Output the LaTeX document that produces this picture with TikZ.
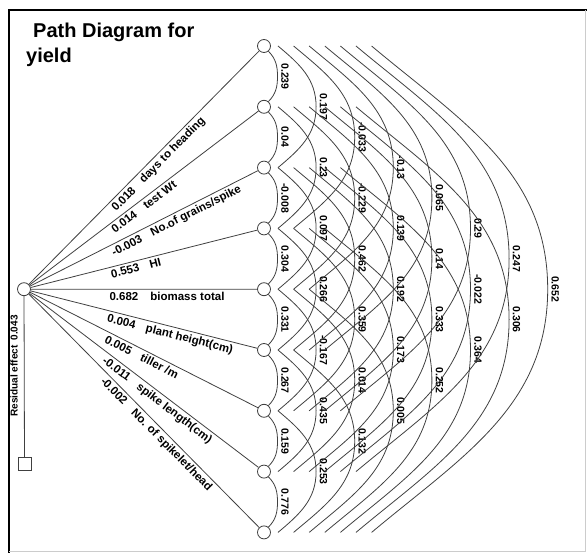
\documentclass[tikz,border=0pt]{standalone}
\usepackage{fontspec}
\setmainfont{Liberation Sans}
\begin{document}
\begin{tikzpicture}[x=1pt,y=1pt,
  ln/.style={draw=black!75, line width=0.8pt},
  var/.style={circle, draw=black!75, line width=0.8pt, fill=white, minimum size=13pt, inner sep=0pt},
  pathlab/.style={font=\bfseries\fontsize{11.5}{12}\selectfont, sloped, anchor=north west, inner sep=2.5pt, pos=0.335},
  arclab/.style={font=\bfseries\fontsize{10.5}{11}\selectfont, rotate=-90, anchor=center, fill=white, inner sep=0.6pt},
  titlefont/.style={font=\bfseries\fontsize{20}{22}\selectfont, inner sep=0pt, anchor=base west},
]
\useasboundingbox (0,0) rectangle (587,-553);
% frame
\draw[black, line width=1.3pt] (9,-553) -- (9,-10) -- (587,-10);
\draw[black!20, line width=0.8pt] (585,-10) -- (585,-551) -- (9,-551);
% title
\node[titlefont] (t1) at (33,-38) {Path Diagram for};
\node[titlefont] (t2) at (26,-63) {yield};
% nodes
\node[var] (c) at (24,-289.2) {};
\foreach \i in {1,...,9}{
  \pgfmathsetmacro{\yy}{-(46+60.8*(\i-1))}
  \node[var] (v\i) at (264,\yy) {};
}
% residual
\node[draw=black!75, line width=0.8pt, fill=white, minimum size=13pt, inner sep=0pt] (r) at (24.5,-464) {};
\draw[ln] (c) -- (r);
\node[rotate=90, font=\bfseries\fontsize{10}{11}\selectfont, inner sep=0pt] (rl) at (14,-366) {Residual effect\hspace{5pt}0.043};
% paths from central node
\draw[ln] (c) -- node[pathlab]{0.018\hspace{11pt}days to heading} (v1);
\draw[ln] (c) -- node[pathlab]{0.014\hspace{11pt}test Wt} (v2);
\draw[ln] (c) -- node[pathlab]{-0.003\hspace{11pt}No.of grains/spike} (v3);
\draw[ln] (c) -- node[pathlab]{0.553\hspace{11pt}HI} (v4);
\draw[ln] (c) -- node[pathlab]{0.682\hspace{12pt}biomass total} (v5);
\draw[ln] (c) -- node[pathlab]{0.004\hspace{11pt}plant height(cm)} (v6);
\draw[ln] (c) -- node[pathlab]{0.005\hspace{11pt}tiller /m} (v7);
\draw[ln] (c) -- node[pathlab]{-0.011\hspace{11pt}spike length(cm)} (v8);
\draw[ln] (c) -- node[pathlab]{-0.002\hspace{11pt}No. of spikelet/head} (v9);
% correlation arcs between neighbours
\foreach \i/\j/\lab in {1/2/0.239, 2/3/0.04, 3/4/-0.008, 4/5/0.304, 5/6/0.331, 6/7/0.267, 7/8/0.159, 8/9/0.776}{
  \pgfmathsetmacro{\ym}{-(46+60.8*((\i+\j)/2-1))}
  \coordinate (m\i\j) at (277.5,\ym);
  \draw[ln] (v\i.-50) to[out=-45,in=90] (m\i\j) to[out=-90,in=45] (v\j.50);
  \pgfmathsetmacro{\xl}{277.5+7.5}
  \node[arclab] (l\i\j) at (\xl,\ym) {\lab};
}
% longer correlation arcs
\foreach \i/\j/\lab in {1/3/0.197, 2/4/0.23, 3/5/0.097, 4/6/0.266, 5/7/-0.167, 6/8/0.435, 7/9/0.253,
  1/4/-0.033, 2/5/-0.229, 3/6/0.462, 4/7/0.359, 5/8/0.014, 6/9/0.132,
  1/5/-0.13, 2/6/0.139, 3/7/0.192, 4/8/0.173, 5/9/0.005,
  1/6/0.065, 2/7/0.14, 3/8/0.333, 4/9/0.252,
  1/7/0.29, 2/8/-0.022, 3/9/0.364,
  1/8/0.247, 2/9/0.306,
  1/9/0.652}{
  \pgfmathsetmacro{\k}{\j-\i}
  \pgfmathsetmacro{\ya}{-(46+60.8*(\i-1))}
  \pgfmathsetmacro{\yb}{-(46+60.8*(\j-1))}
  \pgfmathsetmacro{\ym}{(\ya+\yb)/2}
  \pgfmathsetmacro{\xs}{262.4+15.6*(\k-1)}
  \pgfmathsetmacro{\xa}{277.5+38.6*(\k-1)}
  \pgfmathsetmacro{\xl}{\xa+7.5}
  \coordinate (a\i\j) at (\xs,\ya);
  \coordinate (b\i\j) at (\xs,\yb);
  \coordinate (m\i\j) at (\xa,\ym);
  \draw[ln] (a\i\j) to[out=-40,in=90] (m\i\j) to[out=-90,in=40] (b\i\j);
  \node[arclab] (l\i\j) at (\xl,\ym) {\lab};
}
\end{tikzpicture}
\end{document}
